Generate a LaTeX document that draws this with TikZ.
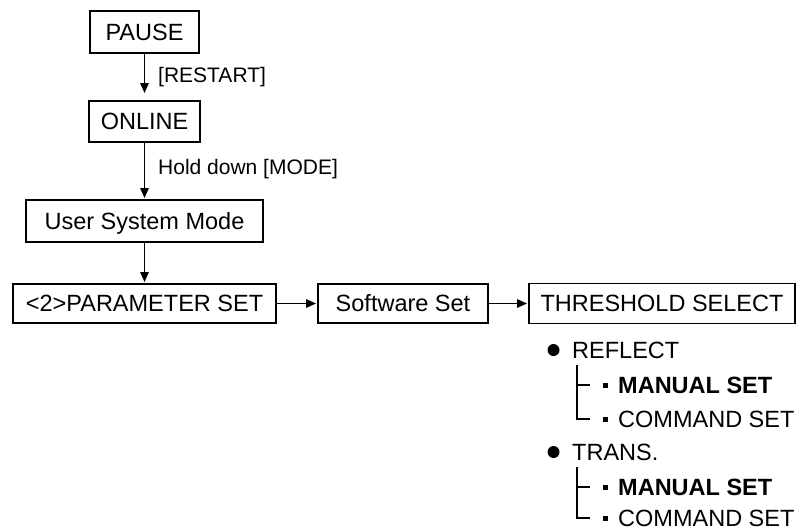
\documentclass[tikz,border=0pt]{standalone}
\usepackage{fontspec}
\setmainfont{Liberation Sans}
\usepackage{tikz}
\usetikzlibrary{arrows.meta}

\begin{document}
\begin{tikzpicture}[x=1pt,y=-1pt,
  box/.style={draw, line width=1.8pt, inner sep=0pt, outer sep=0pt,
    font=\fontsize{23.5}{27}\selectfont, text height=16.8pt, text depth=0pt},
  lbl/.style={anchor=west, inner sep=0pt, font=\fontsize{21}{25}\selectfont,
    text height=15pt, text depth=0pt},
  item/.style={anchor=west, inner sep=0pt, font=\fontsize{23.5}{27}\selectfont,
    text height=16.8pt, text depth=0pt},
  flecha/.style={line width=1.5pt, -{Triangle[length=10pt,width=8.5pt]}, shorten >=2pt},
  punto/.style={circle, fill, inner sep=0pt, minimum size=12pt},
  cuad/.style={rectangle, fill, inner sep=0pt, minimum size=5pt},
  rama/.style={line width=1.4pt}]
  \useasboundingbox (0,0) rectangle (802,531);
  % columna de estados
  \node[box, minimum width=109pt, minimum height=42pt] (pause) at (144.5,32) {PAUSE};
  \node[box, minimum width=111pt, minimum height=41pt] (online) at (144.5,121.5) {ONLINE};
  \node[box, minimum width=237pt, minimum height=42pt] (usm) at (144.5,221) {User System Mode};
  \draw[flecha, shorten >=8pt] (pause) -- (online);
  \node[lbl] (restart) at (158,75) {[RESTART]};
  \draw[flecha] (online) -- (usm);
  \node[lbl] (hold) at (158,167) {Hold down [MODE]};
  % fila de menus
  \node[box, minimum width=263pt, minimum height=39pt] (param) at (144.5,303.5) {<2>PARAMETER SET};
  \node[box, minimum width=170pt, minimum height=39pt] (soft) at (403,303.5) {Software Set};
  \node[box, minimum width=266pt, minimum height=40pt] (thres) at (662,303.5) {THRESHOLD SELECT};
  \draw[flecha] (usm) -- (param);
  \draw[flecha] (param) -- (soft);
  \draw[flecha] (soft) -- (thres);
  % opciones de umbral
  \foreach \y/\c/\n/\t in {350/69/a/REFLECT, 452/66/b/TRANS.}{
    \node[punto] (bul\n) at (553.5,\y) {};
    \node[item] (grp\n) at (572,\y) {\t};
    \node[cuad] (sqm\n) at (605,\y+35) {};
    \node[item] (man\n) at (618,\y+35) {\bfseries MANUAL SET};
    \node[cuad] (sqc\n) at (605,\y+\c) {};
    \node[item] (cmd\n) at (618,\y+\c) {COMMAND SET};
    \coordinate (top\n) at (577,\y+15);
    \draw[rama] (top\n) |- ([xshift=-12pt]sqc\n.west);
    \draw[rama] (top\n |- sqm\n) -- ([xshift=-12pt]sqm\n.west);
  }
\end{tikzpicture}
\end{document}
